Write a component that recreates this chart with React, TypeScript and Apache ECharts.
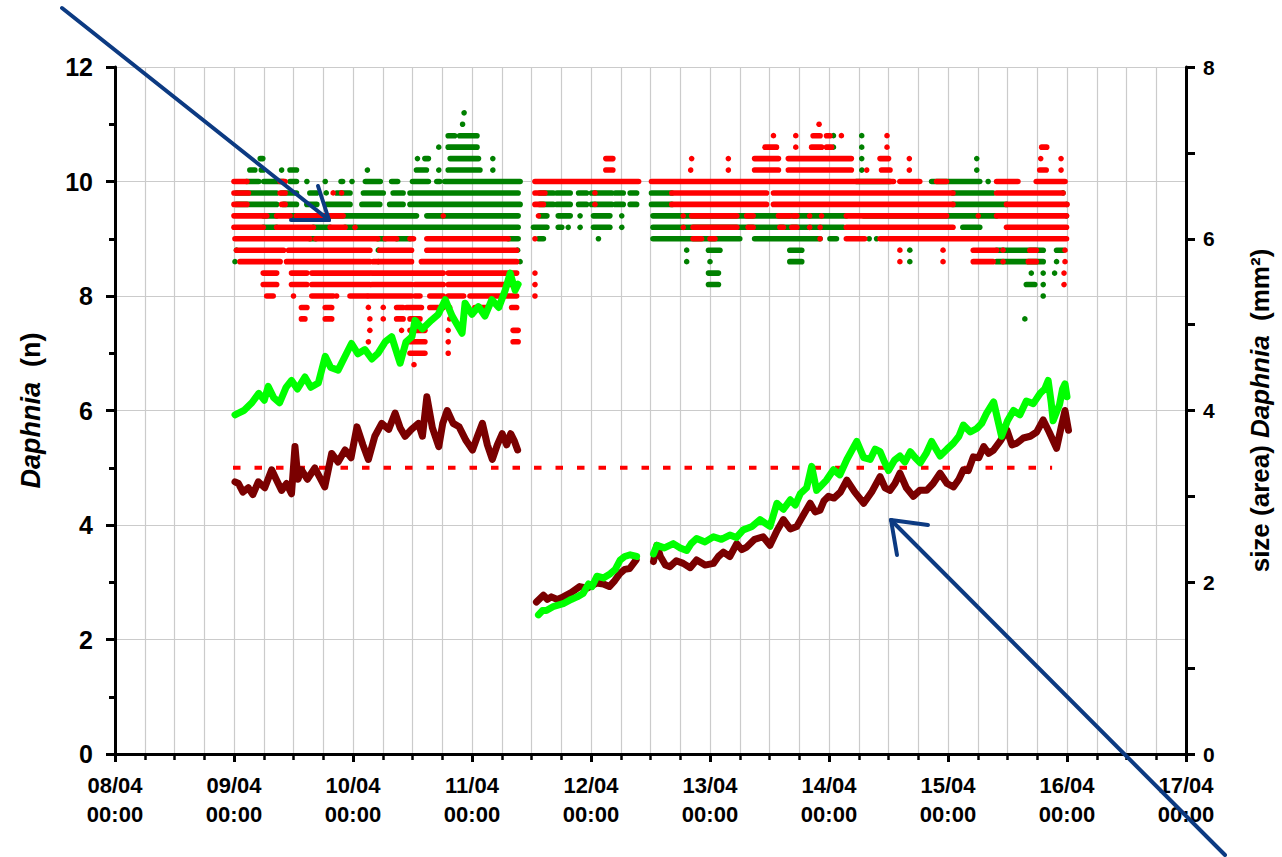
import React, { useEffect, useRef } from "react";
import * as echarts from "echarts";

// x values are hours since 08/04 00:00
const xTickLabels = [
  "08/04\n00:00", "09/04\n00:00", "10/04\n00:00", "11/04\n00:00", "12/04\n00:00",
  "13/04\n00:00", "14/04\n00:00", "15/04\n00:00", "16/04\n00:00", "17/04\n00:00",
];

// Daphnia counts (n): [level, startHour, endHour] runs of dots
const greenCounts: number[][] = [
  // block 1
  [11.2, 70.4, 70.4], [11.0, 70.1, 70.1],
  [10.8, 67.2, 68.5], [10.8, 69.5, 73],
  [10.6, 65.3, 65.3], [10.6, 67.2, 73],
  [10.4, 29.3, 29.8], [10.4, 61, 61], [10.4, 62.5, 63.2], [10.4, 67.6, 73.3], [10.4, 76.2, 76.2],
  [10.2, 27.2, 28.2], [10.2, 29.5, 29.9], [10.2, 33.6, 33.6], [10.2, 35.3, 36.6], [10.2, 50.9, 50.9],
  [10.2, 60.8, 62.8], [10.2, 65.3, 65.3], [10.2, 67.2, 73.6], [10.2, 76.2, 76.2],
  [10.0, 26.5, 29], [10.0, 30, 34], [10.0, 35.3, 36.6], [10.0, 38.7, 38.7], [10.0, 42.4, 42.4],
  [10.0, 45.6, 45.9], [10.0, 47.8, 47.8], [10.0, 50.5, 53.5], [10.0, 55.8, 57], [10.0, 60, 63.2],
  [10.0, 64.9, 65.5], [10.0, 66.5, 81.7],
  [9.8, 24.5, 32.6], [9.8, 33.6, 36.6], [9.8, 39.3, 40.7], [9.8, 42.6, 42.6], [9.8, 44.7, 47.4],
  [9.8, 50.1, 54.1], [9.8, 56.1, 58.1], [9.8, 59.5, 81.3],
  [9.6, 24.5, 32.6], [9.6, 34, 36.6], [9.6, 38.7, 40.7], [9.6, 42.6, 47.4], [9.6, 49.8, 53.4],
  [9.6, 55.4, 58.1], [9.6, 59.5, 81.7],
  [9.4, 29.9, 32.6], [9.4, 35.3, 36.6], [9.4, 43.4, 60.8], [9.4, 62.9, 81.3],
  [9.2, 29.9, 32.6], [9.2, 40, 43.4], [9.2, 46.4, 81.3],
  [9.0, 39.3, 40.5], [9.0, 53, 54.5], [9.0, 56.8, 59.5], [9.0, 79.3, 81.3],
  [8.8, 24.5, 24.5], [8.8, 53.1, 53.1], [8.8, 81.2, 81.2],
  [8.6, 24.2, 24.2], [8.6, 53.1, 53.1], [8.6, 81.7, 81.7],
  // block 2
  [9.8, 85.7, 88.4], [9.8, 89.1, 91.8], [9.8, 93.5, 95.1], [9.8, 96.1, 100.2], [9.8, 100.9, 102.5], [9.8, 103.9, 105.2],
  [9.6, 85.7, 88.4], [9.6, 89.1, 91.8], [9.6, 93.5, 95.1], [9.6, 96.1, 100.2], [9.6, 100.9, 102.5], [9.6, 103.9, 105.2],
  [9.4, 85.7, 87.1], [9.4, 89.4, 91.8], [9.4, 93.8, 93.8], [9.4, 96.5, 99.8], [9.4, 102.2, 102.2],
  [9.2, 84.4, 87.1], [9.2, 89.4, 90.1], [9.2, 91.4, 91.4], [9.2, 93.8, 93.8], [9.2, 96.5, 99.8], [9.2, 102.2, 102.2],
  [9.0, 85.4, 86.4], [9.0, 97.5, 97.5],
  // block 3
  [10.8, 144.9, 144.9], [10.8, 150.6, 150.6],
  [10.6, 144.9, 144.9], [10.6, 150.6, 150.6],
  [10.4, 150.6, 150.6], [10.4, 173.8, 173.8],
  [10.2, 150.6, 150.6], [10.2, 173.8, 173.8],
  [10.0, 149.5, 156.3], [10.0, 164.7, 174.4], [10.0, 176.1, 176.1],
  [9.8, 108.2, 112.3], [9.8, 169, 177.1], [9.8, 191.2, 191.2],
  [9.6, 108.2, 112.3], [9.6, 169, 179.8], [9.6, 191.9, 191.9],
  [9.4, 108.5, 147.5], [9.4, 151, 177.8], [9.4, 191.9, 191.9],
  [9.2, 108.5, 146.9], [9.2, 171, 174.4],
  [9.0, 108.5, 126], [9.0, 129, 142.2], [9.0, 144.2, 145.5], [9.0, 152.1, 152.1], [9.0, 153.6, 153.6],
  [8.8, 115.3, 115.3], [8.8, 119.7, 122], [8.8, 136.1, 138.5], [8.8, 160.3, 160.3], [8.8, 177.8, 187.2], [8.8, 189.9, 191.2],
  [8.6, 115.3, 115.3], [8.6, 120, 120], [8.6, 136.1, 138.5], [8.6, 160.3, 160.3], [8.6, 177.8, 187.2], [8.6, 189.9, 189.9],
  [8.4, 119.7, 121.7], [8.4, 184.8, 184.8], [8.4, 187.2, 187.2], [8.4, 189.5, 189.5],
  [8.2, 119.7, 121.7], [8.2, 183.8, 185.5], [8.2, 187.2, 187.2],
  [8.0, 187.2, 187.2], [7.6, 183.5, 183.5],
];

const redCounts: number[][] = [
  // block 1
  [10.0, 24, 26.6], [10.0, 33.3, 34.3],
  [9.8, 24, 26.9], [9.8, 33.3, 34.3], [9.8, 44, 44], [9.8, 45.7, 45.7],
  [9.6, 24, 26.6], [9.6, 33.6, 34.3],
  [9.4, 24, 30.6], [9.4, 32.6, 35.3], [9.4, 36.6, 42.7], [9.4, 43.4, 46], [9.4, 66.2, 66.2],
  [9.2, 24, 29.9], [9.2, 32.6, 40], [9.2, 43.4, 46.4], [9.2, 48.4, 48.4],
  [9.0, 24.2, 39.3], [9.0, 40.5, 53], [9.0, 54.5, 56.8], [9.0, 59.5, 60.2], [9.0, 62.9, 79.3],
  [8.8, 24.5, 34], [8.8, 35, 51.4], [8.8, 53.4, 59.8], [8.8, 62.9, 81],
  [8.6, 25.2, 33.3], [8.6, 34.6, 51.4], [8.6, 52.1, 59.8], [8.6, 61.8, 81],
  [8.4, 29.9, 32.6], [8.4, 35.6, 38.7], [8.4, 39.7, 51.4], [8.4, 51.8, 59.8], [8.4, 60.2, 66.2], [8.4, 67.2, 81],
  [8.2, 29.9, 32.6], [8.2, 35.6, 38.7], [8.2, 39.7, 51.4], [8.2, 51.8, 59.8], [8.2, 60.5, 66.2], [8.2, 67.2, 81],
  [8.0, 30.6, 31.9], [8.0, 36, 36], [8.0, 39.7, 44], [8.0, 44.7, 44.7], [8.0, 47.4, 50.8], [8.0, 51.1, 59.8],
  [8.0, 60.5, 61.5], [8.0, 63.5, 66.2], [8.0, 67.2, 70.3], [8.0, 71.6, 81],
  [7.8, 37.6, 38.7], [7.8, 42.4, 43.7], [7.8, 51.1, 51.1], [7.8, 54.1, 54.1], [7.8, 56.8, 58.1], [7.8, 58.8, 61.8],
  [7.8, 63.5, 66.2], [7.8, 67.5, 67.5], [7.8, 72.6, 75], [7.8, 80, 81],
  [7.6, 37.6, 38.3], [7.6, 42.4, 43.7], [7.6, 51.4, 51.4], [7.6, 54.1, 54.1], [7.6, 56.8, 58.1], [7.6, 59.5, 61.5], [7.6, 67.5, 67.5],
  [7.4, 51.4, 51.4], [7.4, 57.8, 57.8], [7.4, 59.5, 62.5], [7.4, 67.2, 67.2], [7.4, 80.3, 81.3],
  [7.2, 51.1, 51.1], [7.2, 59.5, 62.5], [7.2, 67.2, 67.2], [7.2, 80.3, 81.3],
  [7.0, 59.5, 62.5], [7.0, 67.2, 67.2], [6.8, 60.3, 60.3],
  // block 2
  [10.4, 99, 100.4], [10.2, 99, 100.4],
  [10.0, 84.7, 105.6],
  [9.8, 84.7, 86.7], [9.8, 96.8, 96.8],
  [9.6, 84.7, 86.4], [9.6, 96.8, 96.8],
  [9.4, 85.4, 85.4], [9.0, 84.7, 84.7],
  [8.4, 84.7, 84.7], [8.2, 84.7, 84.7], [8.0, 84.7, 84.7],
  // block 3
  [11.0, 142, 142],
  [10.8, 132.8, 132.8], [10.8, 137.3, 137.3], [10.8, 140.8, 142.2], [10.8, 143.5, 144.2], [10.8, 146.5, 146.5], [10.8, 155.7, 155.7],
  [10.6, 131.1, 133.4], [10.6, 137.3, 137.3], [10.6, 140.5, 142.5], [10.6, 143.5, 144.5], [10.6, 155.7, 155.7], [10.6, 186.9, 187.9],
  [10.4, 116.3, 116.3], [10.4, 123.7, 123.7], [10.4, 129, 133.8], [10.4, 135.8, 148.5], [10.4, 154.3, 156],
  [10.4, 160.2, 160.2], [10.4, 186.7, 186.7], [10.4, 190.8, 190.8],
  [10.2, 116.1, 116.1], [10.2, 123.7, 123.7], [10.2, 129, 133.8], [10.2, 135.8, 148.5], [10.2, 151.6, 151.6],
  [10.2, 154.6, 156.3], [10.2, 160.2, 160.2], [10.2, 186.5, 187.8], [10.2, 190.8, 190.8],
  [10.0, 108.2, 157], [10.0, 158.3, 162.3], [10.0, 165.7, 167.7], [10.0, 177.8, 182.1], [10.0, 185.8, 191.6],
  [9.8, 112.3, 131.4], [9.8, 132.8, 169], [9.8, 177.8, 191.2],
  [9.6, 112.3, 131.4], [9.6, 132.8, 169], [9.6, 179.8, 192],
  [9.4, 114.6, 114.6], [9.4, 116.3, 125.4], [9.4, 127.4, 128.7], [9.4, 133.8, 136.1], [9.4, 136.8, 137.5],
  [9.4, 140.1, 140.1], [9.4, 142.5, 142.5], [9.4, 147.5, 167.7], [9.4, 174.1, 174.1], [9.4, 177.8, 191.9],
  [9.2, 114.6, 114.6], [9.2, 116.6, 125.4], [9.2, 127.7, 128.7], [9.2, 134.1, 134.8], [9.2, 136.5, 137.5],
  [9.2, 140.1, 140.1], [9.2, 142.2, 142.2], [9.2, 147.5, 169], [9.2, 179.8, 191.9],
  [9.0, 116.6, 118.3], [9.0, 120, 121], [9.0, 142.2, 142.2], [9.0, 147.5, 151.2], [9.0, 154.3, 191.9],
  [8.8, 158.3, 158.3], [8.8, 167, 167], [8.8, 173.1, 177.8], [8.8, 179.1, 179.1], [8.8, 184.5, 185.8], [8.8, 191.6, 191.6],
  [8.6, 158.3, 158.3], [8.6, 167, 167], [8.6, 173.1, 177.1], [8.6, 179.1, 179.1], [8.6, 184.2, 185.8], [8.6, 191.6, 191.6],
  [8.4, 191.4, 191.4], [8.2, 191.4, 191.4],
];

// Daphnia size (area, mm²): [hour, value]
const sizeGreen1 = [
  [24.2, 3.95], [24.9, 3.97], [26.0, 4.0], [27.6, 4.09], [29.0, 4.2], [30.1, 4.12], [30.9, 4.28], [32.0, 4.15],
  [33.2, 4.09], [34.5, 4.27], [35.6, 4.35], [36.8, 4.25], [38.3, 4.39], [39.5, 4.27], [41.0, 4.32], [42.4, 4.63],
  [43.5, 4.5], [45.0, 4.47], [46.3, 4.62], [47.7, 4.78], [49.0, 4.66], [50.4, 4.71], [51.8, 4.6], [53.1, 4.67],
  [54.5, 4.8], [55.8, 4.86], [57.5, 4.55], [58.7, 4.8], [59.9, 4.86], [60.5, 5.05], [62.0, 4.95], [63.8, 5.05],
  [65.2, 5.12], [66.6, 5.29], [68.0, 5.1], [70.0, 4.9], [70.6, 5.25], [72.0, 5.12], [73.3, 5.21], [74.6, 5.1],
  [76.0, 5.29], [77.4, 5.2], [78.7, 5.4], [79.7, 5.6], [80.7, 5.4], [81.3, 5.47],
];
const sizeGreen2 = [
  [85.4, 1.62], [86.2, 1.67], [87.0, 1.67], [88.5, 1.72], [90.4, 1.75], [92.0, 1.8], [93.2, 1.83], [94.4, 1.87],
  [95.5, 1.98], [96.2, 1.95], [97.2, 2.07], [98.5, 2.05], [99.9, 2.1], [100.9, 2.15], [101.9, 2.26], [102.8, 2.3],
  [103.9, 2.32], [105.2, 2.3],
];
const sizeGreen3 = [
  [108.6, 2.33], [109.3, 2.43], [110.8, 2.4], [112.6, 2.45], [114.0, 2.4], [115.3, 2.37], [116.2, 2.45], [117.3, 2.51],
  [119.0, 2.47], [120.7, 2.53], [122.3, 2.5], [124.0, 2.55], [125.3, 2.52], [126.7, 2.61], [128.5, 2.65], [130.1, 2.73],
  [132.1, 2.65], [133.5, 2.92], [134.8, 2.85], [136.2, 2.96], [137.2, 2.9], [138.2, 3.03], [139.5, 3.1], [140.5, 3.35],
  [141.5, 3.07], [143.5, 3.19], [144.9, 3.31], [146.2, 3.25], [147.6, 3.43], [149.6, 3.64], [151.0, 3.45], [152.3, 3.43],
  [153.3, 3.55], [154.3, 3.52], [155.2, 3.4], [156.0, 3.3], [157.2, 3.42], [158.3, 3.47], [159.3, 3.4], [160.4, 3.52],
  [161.4, 3.45], [162.4, 3.39], [163.6, 3.5], [164.7, 3.64], [165.6, 3.55], [166.4, 3.47], [167.8, 3.55], [169.1, 3.62],
  [170.2, 3.7], [171.1, 3.83], [172.5, 3.75], [173.8, 3.79], [174.8, 3.85], [175.8, 3.97], [177.2, 4.1], [178.0, 3.9],
  [178.8, 3.7], [180.0, 3.88], [181.2, 4.0], [182.5, 3.95], [183.8, 4.11], [185.2, 4.08], [186.6, 4.2], [187.5, 4.25],
  [188.2, 4.35], [188.8, 4.1], [189.2, 3.88], [190.5, 4.07], [191.1, 4.25], [191.6, 4.31], [192.0, 4.16],
];
const sizeMaroon1 = [
  [24.2, 3.17], [24.9, 3.15], [25.8, 3.05], [26.9, 3.1], [27.8, 3.02], [28.9, 3.17], [30.2, 3.1], [31.6, 3.31],
  [32.5, 3.2], [33.6, 3.07], [34.6, 3.15], [35.6, 3.03], [36.3, 3.58], [36.9, 3.2], [37.6, 3.31], [38.8, 3.2],
  [40.3, 3.33], [41.3, 3.22], [42.3, 3.11], [43.7, 3.5], [45.0, 3.4], [46.4, 3.54], [47.6, 3.45], [48.8, 3.81],
  [50.0, 3.6], [51.1, 3.43], [52.4, 3.7], [53.8, 3.85], [55.2, 3.78], [56.5, 3.97], [57.5, 3.8], [58.5, 3.7],
  [59.8, 3.78], [61.2, 3.85], [62.0, 3.7], [62.9, 4.16], [64.0, 3.8], [65.3, 3.58], [66.1, 3.85], [67.0, 4.0],
  [68.2, 3.85], [69.4, 3.81], [70.8, 3.65], [72.1, 3.54], [73.1, 3.7], [74.1, 3.85], [75.1, 3.6], [76.1, 3.43],
  [77.1, 3.6], [78.1, 3.73], [79.0, 3.6], [79.8, 3.73], [80.5, 3.65], [81.2, 3.54],
];
const sizeMaroon2 = [
  [85.0, 1.77], [86.4, 1.85], [87.2, 1.8], [88.0, 1.83], [89.2, 1.8], [90.4, 1.83], [92.0, 1.88], [93.7, 1.95],
  [95.2, 1.93], [97.1, 1.99], [98.5, 1.98], [99.7, 1.95], [100.8, 2.02], [101.8, 2.1], [102.8, 2.15], [103.8, 2.16],
  [105.1, 2.26],
];
const sizeMaroon3 = [
  [108.6, 2.24], [109.3, 2.43], [110.0, 2.3], [111.0, 2.2], [111.9, 2.18], [113.2, 2.25], [114.6, 2.22], [116.0, 2.17],
  [117.3, 2.26], [119.0, 2.2], [120.7, 2.22], [121.7, 2.3], [122.7, 2.35], [124.0, 2.3], [125.4, 2.45], [126.4, 2.38],
  [127.4, 2.41], [129.0, 2.5], [130.7, 2.53], [132.1, 2.43], [133.5, 2.6], [134.8, 2.73], [136.2, 2.62], [137.5, 2.65],
  [139.0, 2.8], [140.2, 2.92], [141.2, 2.82], [142.2, 2.84], [143.0, 2.95], [143.9, 3.0], [145.0, 2.98], [146.3, 3.05],
  [147.6, 3.19], [149.2, 3.05], [151.0, 2.92], [152.6, 3.05], [154.3, 3.23], [155.3, 3.1], [156.3, 3.07], [157.3, 3.15],
  [158.3, 3.27], [159.6, 3.1], [161.0, 3.0], [162.3, 3.07], [163.7, 3.07], [165.0, 3.15], [166.4, 3.27], [167.8, 3.15],
  [169.1, 3.11], [170.2, 3.2], [171.1, 3.31], [172.1, 3.3], [173.1, 3.46], [174.2, 3.45], [175.2, 3.58], [176.2, 3.5],
  [177.2, 3.54], [178.6, 3.65], [179.9, 3.77], [180.9, 3.6], [181.9, 3.62], [183.2, 3.68], [184.6, 3.7], [185.9, 3.75],
  [187.2, 3.89], [188.4, 3.75], [189.9, 3.56], [190.8, 3.8], [191.6, 4.0], [192.3, 3.77],
];

// threshold line (n)
const thresholdCount = 5;
const thresholdStart = 23.8;
const thresholdEnd = 189;

const FONT = "'Liberation Sans', Arial, Helvetica, sans-serif";
const GRID_COLOR = "#cbcbcb";
const ARROW_COLOR = "#0c3a82";

function joinBlocks(blocks: number[][][]) {
  const out: any[] = [];
  blocks.forEach((b, i) => {
    if (i > 0) {
      const prev = blocks[i - 1];
      out.push([(prev[prev.length - 1][0] + b[0][0]) / 2, "-"]);
    }
    b.forEach((p) => out.push(p));
  });
  return out;
}

function dotRuns(color: string) {
  return (params: any, api: any) => {
    const s = api.value(0);
    const e = api.value(1);
    const lv = api.value(2);
    const p1 = api.coord([s, lv]);
    const p2 = api.coord([e, lv]);
    if (e - s < 0.05) {
      return { type: "circle", shape: { cx: p1[0], cy: p1[1], r: 2.8 }, style: { fill: color } };
    }
    return {
      type: "line",
      shape: { x1: p1[0], y1: p1[1], x2: p2[0], y2: p2[1] },
      style: { stroke: color, lineWidth: 5.6, lineCap: "round", fill: null },
    };
  };
}

export default function App() {
  const ref = useRef<HTMLDivElement>(null);
  useEffect(() => {
    if (!ref.current) return;
    const chart = echarts.init(ref.current, null, { renderer: "svg" });
    const toRuns = (arr: number[][]) => arr.map((r) => [r[1], r[2], r[0]]);
    chart.setOption({
      animation: false,
      backgroundColor: "#ffffff",
      grid: { left: 115, right: 96, top: 67, bottom: 103, containLabel: false },
      xAxis: {
        type: "value",
        min: 0,
        max: 216,
        interval: 24,
        axisLine: { show: true, onZero: false, lineStyle: { color: "#000", width: 3 } },
        axisTick: { show: true, length: 8, lineStyle: { color: "#000", width: 3 } },
        minorTick: { show: true, splitNumber: 4, length: 6, lineStyle: { color: "#000", width: 2.5 } },
        splitLine: { show: true, lineStyle: { color: GRID_COLOR, width: 1.2 } },
        minorSplitLine: { show: true, lineStyle: { color: GRID_COLOR, width: 1.2 } },
        axisLabel: {
          formatter: (v: number) => xTickLabels[Math.round(v / 24)] ?? "",
          fontFamily: FONT,
          fontWeight: "bold",
          fontSize: 22,
          lineHeight: 29,
          color: "#000",
          margin: 17,
          showMinLabel: true,
          showMaxLabel: true,
        },
      },
      yAxis: [
        {
          type: "value",
          min: 0,
          max: 12,
          interval: 2,
          position: "left",
          name: "{i|Daphnia}  (n)",
          nameLocation: "middle",
          nameRotate: 90,
          nameGap: 71,
          nameTextStyle: {
            fontFamily: FONT,
            fontWeight: "bold",
            fontSize: 27,
            color: "#000",
            rich: { i: { fontFamily: FONT, fontWeight: "bold", fontStyle: "italic", fontSize: 27, color: "#000" } },
          },
          axisLine: { show: true, lineStyle: { color: "#000", width: 3 } },
          axisTick: { show: true, length: 9, lineStyle: { color: "#000", width: 3 } },
          minorTick: { show: true, splitNumber: 2, length: 6, lineStyle: { color: "#000", width: 3 } },
          splitLine: { show: true, lineStyle: { color: GRID_COLOR, width: 1.2 } },
          axisLabel: { fontFamily: FONT, fontWeight: "bold", fontSize: 25, color: "#000", margin: 22 },
        },
        {
          type: "value",
          min: 0,
          max: 8,
          interval: 2,
          position: "right",
          name: "size (area) {i|Daphnia}  (mm²)",
          nameLocation: "middle",
          nameRotate: 90,
          nameGap: 61,
          nameTextStyle: {
            fontFamily: FONT,
            fontWeight: "bold",
            fontSize: 26,
            color: "#000",
            rich: { i: { fontFamily: FONT, fontWeight: "bold", fontStyle: "italic", fontSize: 26, color: "#000" } },
          },
          axisLine: { show: true, lineStyle: { color: "#000", width: 3 } },
          axisTick: { show: true, length: 9, lineStyle: { color: "#000", width: 3 } },
          minorTick: { show: true, splitNumber: 2, length: 9, lineStyle: { color: "#000", width: 3 } },
          splitLine: { show: false },
          axisLabel: { fontFamily: FONT, fontWeight: "bold", fontSize: 21, color: "#000", margin: 17 },
        },
      ],
      series: [
        {
          type: "custom",
          name: "count green",
          xAxisIndex: 0,
          yAxisIndex: 0,
          renderItem: dotRuns("#008000"),
          encode: { x: [0, 1], y: 2 },
          data: toRuns(greenCounts),
          z: 2,
          silent: true,
        },
        {
          type: "custom",
          name: "count red",
          xAxisIndex: 0,
          yAxisIndex: 0,
          renderItem: dotRuns("#ff0000"),
          encode: { x: [0, 1], y: 2 },
          data: toRuns(redCounts),
          z: 3,
          silent: true,
        },
        {
          type: "line",
          name: "threshold",
          yAxisIndex: 0,
          data: [[thresholdStart, thresholdCount], [thresholdEnd, thresholdCount]],
          symbol: "none",
          lineStyle: { color: "#ff0000", width: 4, type: [7.5, 14], cap: "butt" },
          z: 4,
          silent: true,
        },
        {
          type: "line",
          name: "size maroon",
          yAxisIndex: 1,
          data: joinBlocks([sizeMaroon1, sizeMaroon2, sizeMaroon3]),
          symbol: "none",
          connectNulls: false,
          lineStyle: { color: "#7a0000", width: 7, join: "round", cap: "round" },
          z: 5,
          silent: true,
        },
        {
          type: "line",
          name: "size green",
          yAxisIndex: 1,
          data: joinBlocks([sizeGreen1, sizeGreen2, sizeGreen3]),
          symbol: "none",
          connectNulls: false,
          lineStyle: { color: "#00ff00", width: 7, join: "round", cap: "round" },
          z: 6,
          silent: true,
        },
      ],
      graphic: [
        { type: "line", z: 100, shape: { x1: 62, y1: 8, x2: 329, y2: 220 }, style: { stroke: ARROW_COLOR, lineWidth: 4, lineCap: "round" } },
        { type: "line", z: 100, shape: { x1: 329, y1: 220, x2: 291, y2: 220 }, style: { stroke: ARROW_COLOR, lineWidth: 4, lineCap: "round" } },
        { type: "line", z: 100, shape: { x1: 329, y1: 220, x2: 318, y2: 186 }, style: { stroke: ARROW_COLOR, lineWidth: 4, lineCap: "round" } },
        { type: "line", z: 100, shape: { x1: 1225, y1: 855, x2: 891, y2: 520 }, style: { stroke: ARROW_COLOR, lineWidth: 4, lineCap: "round" } },
        { type: "line", z: 100, shape: { x1: 891, y1: 520, x2: 928, y2: 525 }, style: { stroke: ARROW_COLOR, lineWidth: 4, lineCap: "round" } },
        { type: "line", z: 100, shape: { x1: 891, y1: 520, x2: 897, y2: 555 }, style: { stroke: ARROW_COLOR, lineWidth: 4, lineCap: "round" } },
      ],
    });
    return () => chart.dispose();
  }, []);
  return (
    <div
      ref={ref}
      style={{ position: "fixed", left: 0, top: 0, width: 1282, height: 857, background: "#fff" }}
    />
  );
}
